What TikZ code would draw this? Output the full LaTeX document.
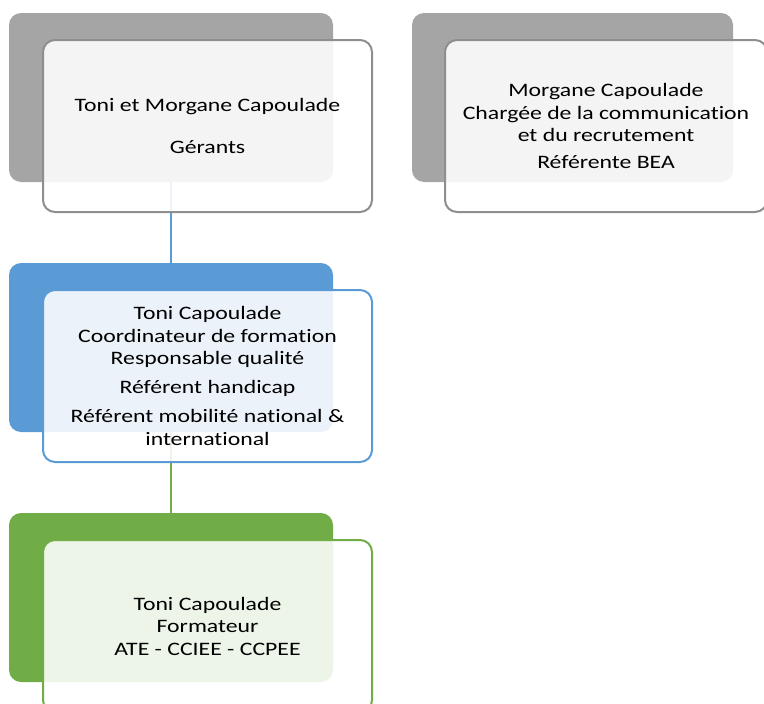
\documentclass[tikz,border=0pt]{standalone}
\usepackage{fontspec}
\setmainfont[FakeStretch=1.25, Ligatures=NoCommon]{Carlito}
\usetikzlibrary{positioning}

\definecolor{backgray}{HTML}{A5A5A5}
\definecolor{linegray}{HTML}{8E8E8E}
\definecolor{backblue}{HTML}{5B9BD5}
\definecolor{backgreen}{HTML}{70AD47}

\tikzset{
  backbox/.style={rounded corners=12pt, minimum width=324pt, minimum height=169pt, inner sep=0pt, fill=#1},
  frontbox/.style={rounded corners=12pt, minimum width=329pt, minimum height=172pt, inner sep=0pt,
    draw=#1, line width=2pt, fill=white, fill opacity=0.88, text opacity=1, align=center,
    font=\fontsize{19}{22.5}\selectfont},
  link/.style={draw=#1, line width=2pt}
}

\begin{document}
\begin{tikzpicture}[x=1pt,y=-1pt]
  \useasboundingbox (0,0) rectangle (764,704);

  % back boxes
  \node[backbox=backgray] (gerantsback) at (171,97.5) {};
  \node[backbox=backgray, minimum width=321pt] (morganeback) at (572.5,97.5) {};
  \node[backbox=backblue] (coordback) at (171,347.5) {};
  \node[backbox=backgreen] (formback) at (171,597.5) {};

  % links
  \draw[link=backblue] (gerantsback) -- (coordback);
  \draw[link=backgreen] (coordback) -- (formback);

  % front boxes
  \node[frontbox=linegray] (gerants) at (207.5,126) {Toni et Morgane Capoulade\\[20pt] Gérants};
  \node[frontbox=linegray, minimum width=322pt] (morgane) at (606,126)
    {Morgane Capoulade\\ Chargée de la communication\\ et du recrutement\\[4pt] Référente BEA};
  \node[frontbox=backblue] (coord) at (207.5,376)
    {Toni Capoulade\\ Coordinateur de formation\\ Responsable qualité\\[6pt] Référent handicap\\[7pt]
     Référent mobilité national \&\\ international};
  \node[frontbox=backgreen] (form) at (207.5,626) {Toni Capoulade\\ Formateur\\ ATE - CCIEE - CCPEE};
\end{tikzpicture}
\end{document}
